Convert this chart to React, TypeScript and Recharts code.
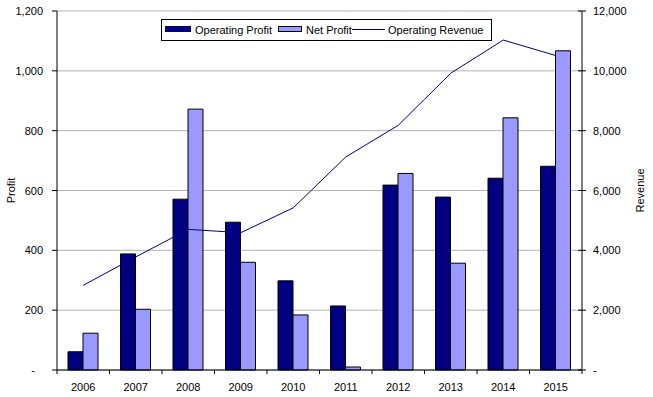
import React from 'react'
import { ComposedChart, Bar, Line, XAxis, YAxis, CartesianGrid } from 'recharts'

const years = ['2006', '2007', '2008', '2009', '2010', '2011', '2012', '2013', '2014', '2015']
const operatingProfit = [61, 388, 571, 494, 298, 214, 618, 578, 641, 681]
const netProfit = [123, 203, 872, 360, 184, 10, 657, 357, 843, 1067]
const operatingRevenue = [2830, 3780, 4700, 4590, 5420, 7120, 8180, 9920, 11030, 10510]

const profitTicks = [0, 200, 400, 600, 800, 1000, 1200]
const revenueTicks = [0, 2000, 4000, 6000, 8000, 10000, 12000]

const FONT = '"Liberation Sans", Arial, sans-serif'
const DARK = '#000080'
const LIGHT = '#9999FF'

const fmt = (v: number) => (v === 0 ? '-' : v.toLocaleString('en-US'))

function LeftTick({ x, y, payload }: any) {
    const zero = payload.value === 0
    return (
        <g>
            <line x1={x - 5} x2={x} y1={y} y2={y} stroke="#000" />
            <text x={zero ? x - 22 : x - 14} y={y} dy={4} textAnchor="end" fontSize={11} fontFamily={FONT} fill="#000">
                {fmt(payload.value)}
            </text>
        </g>
    )
}

function RightTick({ x, y, payload }: any) {
    return (
        <g>
            <line x1={x - 4} x2={x + 4} y1={y} y2={y} stroke="#000" />
            <text x={x + 11} y={y} dy={4} textAnchor="start" fontSize={11} fontFamily={FONT} fill="#000">
                {fmt(payload.value)}
            </text>
        </g>
    )
}

function YearTick({ x, y, payload }: any) {
    const half = payload.offset || 26.25
    const last = payload.index === years.length - 1
    return (
        <g>
            <line x1={x - half} x2={x - half} y1={y} y2={y + 4} stroke="#000" />
            {last && <line x1={x + half} x2={x + half} y1={y} y2={y + 4} stroke="#000" />}
            <text x={x} y={y} dy={21} textAnchor="middle" fontSize={11} fontFamily={FONT} fill="#000">
                {payload.value}
            </text>
        </g>
    )
}

function AxisTitle({ viewBox, value, dx }: any) {
    const cx = viewBox.x + dx
    const cy = viewBox.y + viewBox.height / 2
    return (
        <text x={cx} y={cy} transform={`rotate(-90, ${cx}, ${cy})`} textAnchor="middle" fontSize={11} fontFamily={FONT} fill="#000">
            {value}
        </text>
    )
}

function ChartLegend() {
    const ty = 33.5
    const txt = { fontSize: 11, fontFamily: FONT, fill: '#000' }
    return (
        <g>
            <rect x={161.5} y={19.5} width={330} height={21} fill="#fff" stroke="#000" />
            <rect x={165} y={26} width={26} height={6} fill={DARK} />
            <text x={195} y={ty} {...txt}>Operating Profit</text>
            <rect x={278.5} y={26.5} width={23} height={5} fill={LIGHT} stroke="#000" />
            <text x={306} y={ty} {...txt}>Net Profit</text>
            <line x1={352} x2={385} y1={29.5} y2={29.5} stroke={DARK} />
            <text x={388} y={ty} {...txt}>Operating Revenue</text>
        </g>
    )
}

export default function App() {
    const data = years.map((year, i) => ({
        year,
        operatingProfit: operatingProfit[i],
        netProfit: netProfit[i],
        operatingRevenue: operatingRevenue[i],
    }))

    return (
        <div style={{ position: 'absolute', left: 0, top: 0, width: 653, height: 397, background: '#fff' }}>
            <ComposedChart
                width={653}
                height={397}
                data={data}
                margin={{ top: 11, right: 0, bottom: 7, left: 0 }}
                barSize={15}
                barGap={0}
            >
                <CartesianGrid yAxisId="left" vertical={false} stroke="#b4b4b4" />
                <XAxis
                    dataKey="year"
                    height={20}
                    tickSize={0}
                    tickMargin={0}
                    tickLine={false}
                    axisLine={{ stroke: '#000' }}
                    tick={<YearTick />}
                    interval={0}
                />
                <YAxis
                    yAxisId="left"
                    width={57}
                    domain={[0, 1200]}
                    ticks={profitTicks}
                    tickSize={0}
                    tickMargin={0}
                    tickLine={false}
                    axisLine={{ stroke: '#000' }}
                    tick={<LeftTick />}
                    label={<AxisTitle value="Profit" dx={15} />}
                />
                <YAxis
                    yAxisId="right"
                    orientation="right"
                    width={71}
                    domain={[0, 12000]}
                    ticks={revenueTicks}
                    tickSize={0}
                    tickMargin={0}
                    tickLine={false}
                    axisLine={{ stroke: '#000' }}
                    tick={<RightTick />}
                    label={<AxisTitle value="Revenue" dx={62} />}
                />
                <Bar yAxisId="left" dataKey="operatingProfit" fill={DARK} stroke="#000" strokeWidth={1} isAnimationActive={false} />
                <Bar yAxisId="left" dataKey="netProfit" fill={LIGHT} stroke="#000" strokeWidth={1} isAnimationActive={false} />
                <Line
                    yAxisId="right"
                    type="linear"
                    dataKey="operatingRevenue"
                    stroke={DARK}
                    strokeWidth={1}
                    dot={false}
                    activeDot={false}
                    isAnimationActive={false}
                />
                <ChartLegend />
            </ComposedChart>
        </div>
    )
}
